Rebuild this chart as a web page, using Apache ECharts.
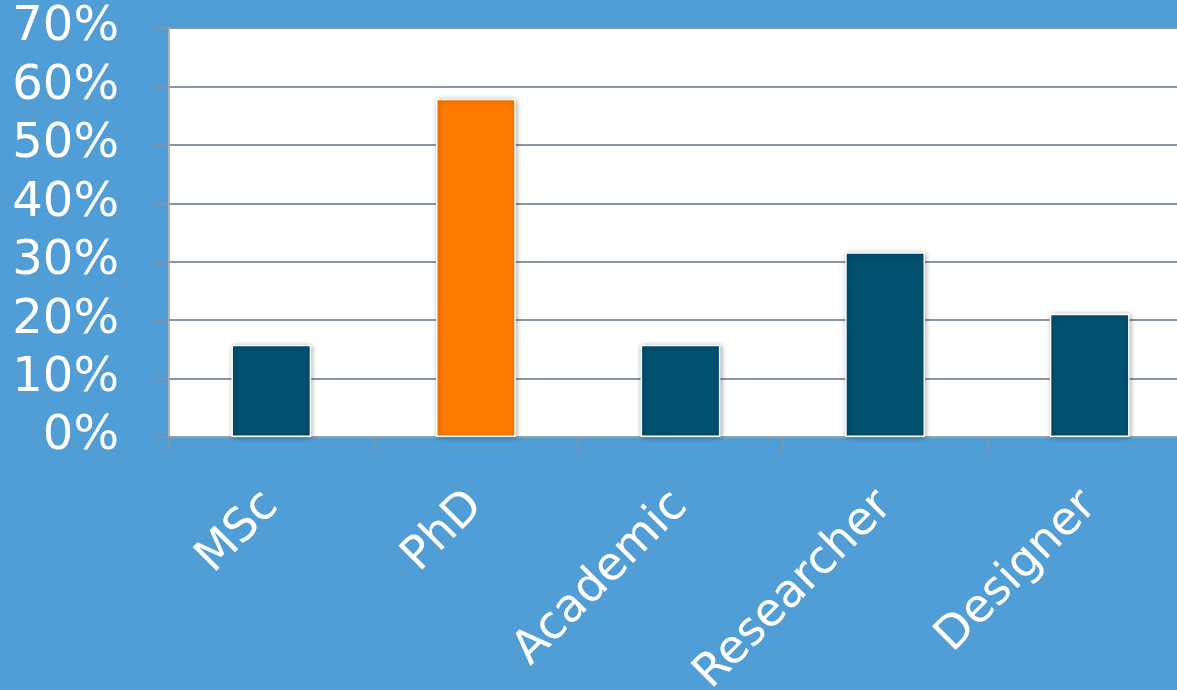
<!DOCTYPE html>
<html>
<head>
<meta charset="utf-8">
<script src="https://cdn.jsdelivr.net/npm/echarts@6/dist/echarts.min.js"></script>
<style>
html,body{margin:0;padding:0;background:#519ED7;}
#chart{width:1177px;height:690px;}
</style>
</head>
<body>
<div id="chart"></div>
<script>
const categories = ['MSc', 'PhD', 'Academic', 'Researcher', 'Designer'];
const values = [15.8, 57.9, 15.8, 31.6, 21.1];
const highlightIndex = 1;
const yTicks = [0, 10, 20, 30, 40, 50, 60, 70];

const chart = echarts.init(document.getElementById('chart'));
const option = {
  backgroundColor: '#519ED7',
  animation: false,
  grid: { left: 169, top: 28, height: 409, width: 1023, show: true, backgroundColor: '#ffffff', borderWidth: 0, containLabel: false, outerBoundsMode: 'none' },
  xAxis: {
    type: 'category',
    data: categories,
    axisLine: { show: true, lineStyle: { color: '#9aa0a8', width: 2 } },
    axisTick: { show: true, length: 15, lineStyle: { color: '#8a939e', width: 1.5 } },
    axisLabel: { rotate: 45, color: '#ffffff', fontFamily: 'DejaVu Sans', fontSize: 46, margin: 62 }
  },
  yAxis: {
    type: 'value',
    min: yTicks[0],
    max: yTicks[yTicks.length - 1],
    interval: 10,
    axisLine: { show: true, lineStyle: { color: '#b0b4b8', width: 2 } },
    axisTick: { show: true, length: 15, lineStyle: { color: '#8a939e', width: 1.5 } },
    splitLine: { show: true, lineStyle: { color: '#8896a5', width: 2 } },
    axisLabel: { color: '#ffffff', fontFamily: 'DejaVu Sans', fontSize: 48, margin: 50, formatter: v => v + '%' }
  },
  series: [{
    type: 'bar',
    barWidth: '39%',
    data: values.map((v, i) => ({
      value: v,
      itemStyle: { color: i === highlightIndex ? '#FF7B00' : '#02506F' }
    })),
    itemStyle: {
      borderColor: '#ffffff',
      borderWidth: 1.5,
      shadowBlur: 5,
      shadowColor: 'rgba(0,0,0,0.35)',
      shadowOffsetX: 1,
      shadowOffsetY: 1
    }
  }]
};
chart.setOption(option);
</script>
</body>
</html>
